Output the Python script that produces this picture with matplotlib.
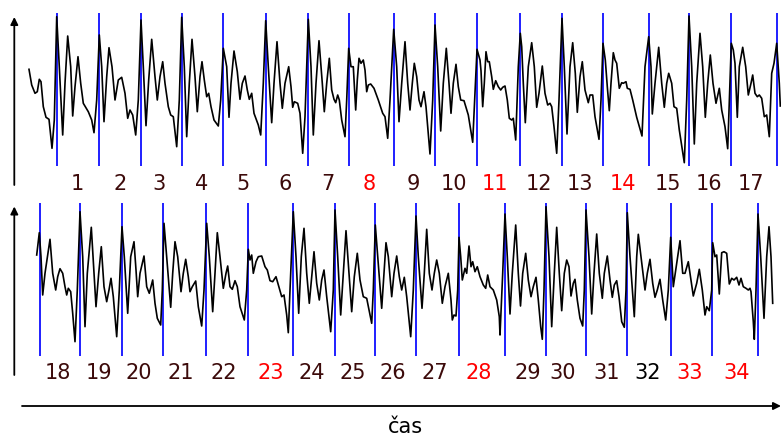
import matplotlib
matplotlib.use("Agg")
import matplotlib.pyplot as plt

# ---------------- data (pixel-like units) ----------------
top_wave = [
    (29, 69.3), (31.7, 85), (35, 93.3), (37.3, 91.7), (39.3, 79.3), (41, 81.7), (43.3, 106.7), (46, 117.3),
    (49, 119.3), (52, 148.3), (54.3, 120), (56.7, 16.7), (59.3, 66.7), (62.7, 135), (65, 83.3), (67.7, 36),
    (70.7, 66.7), (72.7, 116), (75, 86.7), (78, 56.7), (80.7, 83.3), (83.3, 103.3), (88.3, 111.7), (91.7, 120),
    (94, 132.7), (96.7, 100), (99.3, 35), (101.7, 66.7), (104, 121.7), (106.7, 76.7), (109, 47.7), (112, 66.7),
    (115, 100), (118.3, 80), (121.7, 77.3), (125, 93.3), (127.7, 118.3), (130, 110), (132.7, 115), (135.7, 135),
    (138.3, 100), (141, 20), (143.3, 66.7), (146, 125.7), (148.7, 80), (151.7, 39.3), (155, 76.7), (157.3, 100),
    (160, 76.7), (162.7, 61.7), (165, 83.3), (168.3, 106.7), (170.7, 115), (173.3, 116.7), (176.7, 146.7),
    (179.3, 100), (181.7, 17.3), (184.3, 66.7), (186.7, 136.7), (189.3, 83.3), (192, 39.3), (195, 76.7),
    (197.3, 111.7), (200, 76.7), (202, 61.7), (204.3, 80), (206.7, 96.7), (208.7, 93.3), (211, 106.7),
    (214, 120), (218.3, 126), (220.7, 100), (223.3, 48.3), (226.7, 66.7), (229, 117.3), (231, 83.3), (234, 51),
    (237.3, 71.7), (240, 99.3), (242.3, 83.3), (245, 76), (247.3, 90), (249.3, 99.3), (251.7, 93.3),
    (254, 113.3), (258.3, 125), (260.7, 135), (263.3, 83.3), (265.7, 20.7), (268.3, 66.7), (271.7, 122.7),
    (274, 83.3), (277, 41.7), (280, 83.3), (282.3, 108.3), (285, 83.3), (288.7, 66.7), (291, 86.7),
    (292.7, 107.3), (294.3, 101.7), (297.7, 103.3), (300, 113.3), (302.7, 153.3), (305, 116.7), (308.3, 19.3),
    (311, 66.7), (313.3, 135), (316, 83.3), (319, 40.7), (322.3, 83.3), (324.3, 111.7), (326.7, 83.3),
    (329.3, 58.3), (331.7, 90), (334, 99.3), (335.7, 102.7), (337.7, 95), (339.3, 100), (341.7, 120),
    (345, 136.7), (346.7, 100), (348.7, 48.3), (351, 66.7), (353.3, 66.7), (355.7, 110), (357.3, 80),
    (359, 58.3), (361, 63.3), (363.3, 60), (365, 70), (366.7, 91.7), (368.3, 85), (370.7, 84), (374, 88.3),
    (378.3, 100), (382.7, 113.3), (385, 116.7), (387.7, 138.3), (390, 100), (393.7, 29.3), (396.7, 66.7),
    (399, 121.7), (401.7, 83.3), (405, 41.7), (407.7, 83.3), (410, 110), (412.3, 83.3), (414.3, 63.3),
    (416.7, 76.7), (419, 100), (421, 106.7), (424, 91.7), (426, 106.7), (428.3, 133.3), (430, 154),
    (432.7, 100), (435, 25), (437.7, 66.7), (440.7, 131), (443.3, 83.3), (446.3, 48.3), (449, 83.3),
    (451, 113.3), (453.3, 83.3), (456, 64.3), (458.3, 86.7), (460.7, 100), (464, 100.7), (468.3, 115),
    (472.7, 142.3), (474.7, 100), (477, 49.3), (480, 60), (481, 70.7), (482.7, 106.7), (484.3, 83.3),
    (486, 51.7), (487.7, 61.7), (489.3, 61.7), (491.7, 76.7), (493.3, 89.3), (495.7, 80.7), (498.3, 86.7),
    (500.7, 90), (502.7, 87.3), (505, 86), (507.3, 100), (509.3, 118.3), (511.7, 120), (513.3, 118.3),
    (515.7, 140), (518.3, 66.7), (520.3, 33.3), (521.7, 46.7), (523.3, 83.3), (525.3, 122.7), (528.3, 66.7),
    (531.7, 42.7), (534.3, 66.7), (536.7, 107.3), (539, 93.3), (542.3, 66), (545, 93.3), (547.7, 105),
    (550, 103.3), (551.7, 106.7), (554, 126.7), (556.7, 153.3), (559, 100), (562, 18.3), (564.3, 66.7),
    (567, 134), (570, 66.7), (572.7, 42.7), (575.3, 73.3), (577.3, 112.3), (580, 76.7), (582.3, 61.7),
    (585, 90), (588.3, 102.7), (590, 95), (592.7, 95), (595, 116.7), (599, 139.3), (601, 100), (603, 43.3),
    (605.3, 60), (607.3, 86.7), (609.3, 110.7), (611, 83.3), (613.3, 52.7), (615, 60), (616.7, 63.3),
    (619.3, 88.3), (621.7, 82.7), (623.3, 83.3), (626, 81.7), (627.3, 88.3), (630, 89.3), (632.7, 100),
    (636.7, 117.3), (642, 136), (645, 66.7), (648.7, 36.7), (651, 66.7), (652.3, 114), (655, 83.3),
    (658.7, 47.3), (661.7, 83.3), (664.3, 107.3), (666.7, 83.3), (668.7, 73.3), (671.7, 83.3), (674, 106.7),
    (676.7, 108.3), (679.3, 130), (684.3, 162.7), (686.7, 100), (689, 16), (691.7, 66.7), (694.3, 144),
    (696.7, 83.3), (700, 33.3), (702.7, 66.7), (705.3, 117.3), (707.7, 83.3), (710.3, 55), (713, 83.3),
    (716, 103.3), (719.3, 88.3), (721.7, 110), (725, 126.7), (727.7, 148.7), (730, 83.3), (731.3, 43.3),
    (733.3, 50), (735, 63.3), (737.3, 117.3), (739.3, 66.7), (742.7, 47.3), (745.7, 66.7), (748.3, 95),
    (751, 83.3), (752.7, 75), (755, 93.3), (757.3, 96.7), (759.3, 95), (761.7, 98.3), (764.3, 116.7),
    (766.7, 115), (769.3, 136.7), (771.7, 73.3), (774, 63.3), (776.7, 43.3), (779.3, 83.3), (780.3, 106),
]

bottom_wave = [
    (36.7, 255), (39.3, 232.7), (41, 256.7), (42.7, 295), (45, 273.3), (50, 239.3), (52.7, 273.3),
    (55.7, 290), (57.7, 276.7), (60, 268.7), (62.7, 273.3), (65, 286.7), (66.7, 295), (68.3, 288.3),
    (70.7, 291.7), (72.7, 313.3), (75, 341.7), (77.3, 290), (80, 211.7), (82.7, 256.7), (85, 326.7),
    (87.3, 273.3), (91.3, 227.3), (94, 273.3), (96, 306.7), (98.7, 273.3), (101.3, 246.7), (104, 286.7),
    (106.7, 301.7), (109, 290), (111, 278.3), (113.3, 296.7), (116.7, 336.7), (119.3, 290), (122, 226.7),
    (124.3, 256.7), (127.7, 313.3), (130.7, 256.7), (134, 241.7), (136, 270), (137.7, 296.7), (140, 273.3),
    (144, 256), (146.7, 286.7), (149.3, 293.3), (152.7, 280), (155, 303.3), (157.3, 318.3), (160.7, 325),
    (162.3, 290), (164, 223.3), (166.7, 256.7), (170.7, 307.3), (172.7, 273.3), (175, 241.7), (177.7, 256.7),
    (181, 291.7), (183.3, 273.3), (185.7, 259.3), (188.3, 276.7), (190, 291.7), (192.3, 286.7), (195.7, 281),
    (198.3, 306.7), (201.7, 326), (204, 290), (206.7, 223.3), (209.3, 256.7), (212.7, 311.7), (215, 273.3),
    (217.3, 232.7), (220, 256.7), (223.3, 288.3), (226, 273.3), (227.7, 266), (230, 286.7), (232.3, 289.3),
    (235, 280.7), (237.3, 286.7), (240, 306.7), (244.3, 320), (246.7, 290), (248.3, 249.3), (250, 260),
    (251.7, 255), (253.3, 273.3), (256, 261.7), (258.3, 256.7), (261.7, 256), (265, 266.7), (267.3, 270),
    (270, 280.7), (272.7, 281.7), (276, 276.7), (279.3, 288.3), (281.7, 296.7), (284, 295), (286.7, 315),
    (288.3, 332.7), (290, 290), (293.3, 211.7), (296, 256.7), (298.7, 313.3), (301.3, 256.7), (304, 228.3),
    (306.7, 273.3), (309.3, 303.3), (312, 273.3), (314, 251.7), (316.7, 283.3), (319.3, 300), (321.7, 280),
    (324, 270), (326.7, 296.7), (330.7, 331.7), (333.3, 290), (335, 210), (337.7, 256.7), (340.7, 315),
    (343.3, 273.3), (346, 230.7), (349, 273.3), (351.7, 311.7), (354.3, 276.7), (357.3, 253.3), (360, 280),
    (363.3, 296.7), (366.7, 298.3), (369, 310), (371.7, 323.3), (373.3, 290), (375.3, 225), (377.7, 256.7),
    (381.7, 308.3), (384, 273.3), (386, 242.7), (388.3, 256.7), (391.7, 296.7), (394, 273.3), (396.7, 256),
    (399.3, 276.7), (401.7, 290), (404.3, 277.3), (406.7, 296.7), (410.7, 336.7), (413.3, 290), (416, 216),
    (418.3, 256.7), (422, 308.3), (424.3, 273.3), (426.7, 229.3), (429.3, 273.3), (432, 290), (434.3, 273.3),
    (436.7, 260), (439.3, 273.3), (442.3, 303.3), (445, 286.7), (448.3, 273.3), (451, 300), (452.3, 320),
    (454, 315), (456, 316), (457.7, 290), (459, 237.3), (460.7, 256.7), (462.3, 280), (465, 268.3),
    (466.7, 273.3), (469, 246), (471, 266.7), (472.7, 261.7), (475, 271.7), (477.3, 266.7), (480, 276.7),
    (483.3, 285), (485.7, 288.3), (487.7, 275), (490, 286.7), (493.3, 290), (496.7, 300), (499.3, 316.7),
    (500, 335), (502.7, 273.3), (505, 214), (507.3, 256.7), (510, 314), (512.3, 273.3), (515.7, 225),
    (518.3, 273.3), (520.5, 306), (522.7, 273.3), (525.7, 253.3), (528.3, 280), (531, 296.7), (533.3, 286.7),
    (536, 277.3), (538.3, 300), (540.7, 326.7), (542.3, 339.3), (544, 290), (546, 206.7), (549, 256.7),
    (551.7, 326.7), (554.3, 273.3), (556.7, 227.3), (559.3, 273.3), (561.7, 310.7), (564.3, 273.3),
    (566.7, 260), (569, 266.7), (571, 296), (573.3, 283.3), (575, 279.3), (577.3, 300), (580, 318.3),
    (582.7, 326), (584.3, 290), (586, 210), (589, 256.7), (591.7, 314), (594, 273.3), (596.7, 234),
    (599.3, 273.3), (602.3, 298.3), (604.3, 273.3), (607.3, 256), (610, 280), (612.3, 297.3), (614.3, 285),
    (616.7, 280.7), (619, 296.7), (621.7, 321.7), (624.3, 327.3), (626, 290), (627.3, 212.7), (630, 256.7),
    (634.3, 316.7), (636.7, 256.7), (638.3, 234.3), (641, 256.7), (645, 290), (647.3, 273.3), (650, 259.3),
    (652.7, 283.3), (655, 297.3), (657.3, 290), (660, 279.3), (662.7, 300), (665.7, 320), (668.3, 290),
    (670.7, 237.3), (673.3, 286.7), (676.7, 263.3), (680, 240.7), (682.7, 273.3), (685, 273.3), (688.3, 261.7),
    (691, 280), (693.3, 296), (696.7, 283.3), (699.3, 269.3), (702.3, 290), (705, 315), (706.7, 306.7),
    (709.3, 310.7), (711.7, 290), (712.7, 242.7), (715, 256.7), (716.7, 255), (719.3, 294), (721.7, 252.7),
    (724, 251.7), (726.7, 253.3), (729.3, 284), (731.7, 278.3), (734, 280), (736.7, 277.3), (739, 285),
    (741, 278.3), (743.3, 286.7), (746, 288.3), (748.3, 290), (750, 288.3), (751, 291.7), (753.3, 321.7),
    (754.3, 339.3), (756, 290), (758, 214), (760.7, 256.7), (764, 318.3), (766.7, 256.7), (769, 226.7),
    (771, 256.7), (772.7, 303.3),
]

top_marks = [57, 99, 141, 182, 223, 266, 308, 349, 394, 435, 477, 520, 562, 603, 649, 689, 731, 777]
bottom_marks = [40, 80, 122, 163, 206, 248, 293, 335, 375, 416, 459, 505, 546, 586, 627, 671, 712, 758]

top_labels = ["1", "2", "3", "4", "5", "6", "7", "8", "9", "10", "11", "12", "13", "14", "15", "16", "17"]
top_label_x = [77, 120, 159, 202, 243, 285, 328, 369, 413, 454, 495, 539, 580, 623, 668, 709, 751]
top_label_kind = ["n", "n", "n", "n", "n", "n", "n", "r", "n", "n", "r", "n", "n", "r", "n", "n", "n"]

bottom_labels = ["18", "19", "20", "21", "22", "23", "24", "25", "26", "27", "28", "29", "30", "31", "32", "33", "34"]
bottom_label_x = [58, 99, 139, 181, 224, 271, 312, 353, 393, 435, 479, 528, 563, 607, 648, 690, 737]
bottom_label_kind = ["n", "n", "n", "n", "n", "r", "n", "n", "n", "n", "r", "n", "n", "n", "k", "r", "r"]

axis_label = "čas"

# ---------------- styles ----------------
W, H = 781, 437
colors = {"n": "#3c0a0a", "r": "#ff0000", "k": "#000000"}
blue = "#1f1fff"

fig = plt.figure(figsize=(W / 100, H / 100), dpi=100)
ax = fig.add_axes([0, 0, 1, 1])
ax.set_xlim(0, W)
ax.set_ylim(H, 0)
ax.axis("off")

# marks (vertical blue lines)
ax.vlines(top_marks, 12.5, 166, color=blue, lw=1.4, zorder=1)
ax.vlines(bottom_marks, 202.5, 355.5, color=blue, lw=1.4, zorder=1)

# waveforms
tx, ty = zip(*top_wave)
bx, by = zip(*bottom_wave)
ax.plot(tx, ty, color="black", lw=1.2, zorder=2, solid_joinstyle="round")
ax.plot(bx, by, color="black", lw=1.2, zorder=2, solid_joinstyle="round")

# labels
for s, x, k in zip(top_labels, top_label_x, top_label_kind):
    ax.text(x, 183.5, s, ha="center", va="center", fontsize=15, color=colors[k])
for s, x, k in zip(bottom_labels, bottom_label_x, bottom_label_kind):
    ax.text(x, 373, s, ha="center", va="center", fontsize=15, color=colors[k])

# arrows
arrow_kw = dict(arrowstyle="-|>", color="black", lw=1.3, mutation_scale=11, shrinkA=0, shrinkB=0)
ax.annotate("", xy=(14.3, 17), xytext=(14.3, 185), arrowprops=arrow_kw)
ax.annotate("", xy=(14.3, 206.5), xytext=(14.3, 375), arrowprops=arrow_kw)
ax.annotate("", xy=(781, 406), xytext=(22, 406), arrowprops=arrow_kw)

ax.text(405, 427, axis_label, ha="center", va="center", fontsize=15, color="black")

fig.savefig("out.png", dpi=100)
